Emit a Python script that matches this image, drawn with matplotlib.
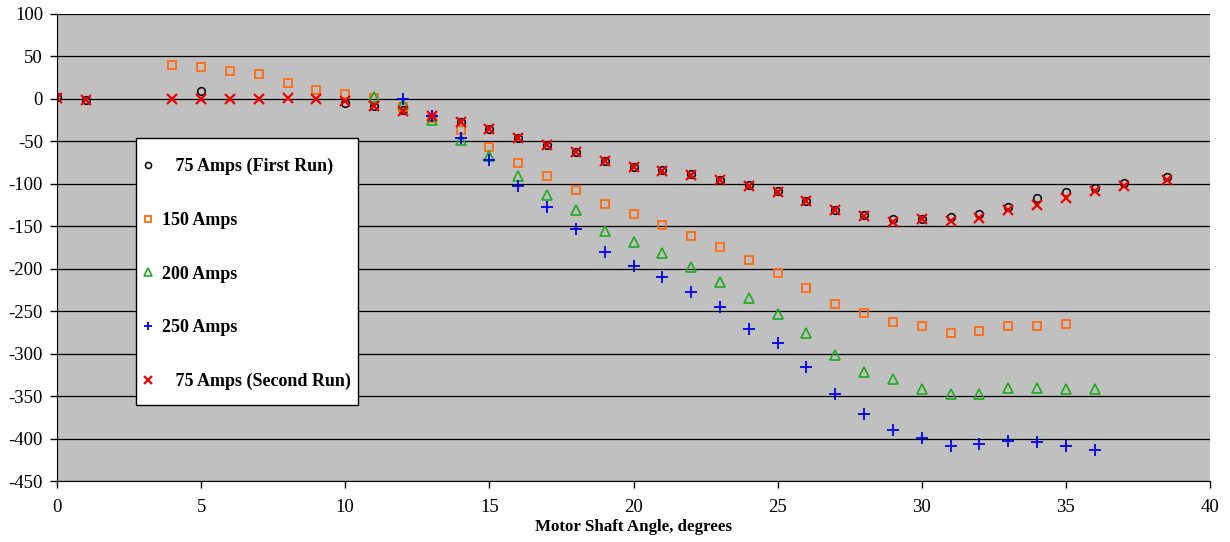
import matplotlib
matplotlib.use("Agg")
import matplotlib.pyplot as plt
from matplotlib.patches import Rectangle

# 75 Amps, first run
x_75a = [0, 1, 5, 10, 11, 12, 13, 14, 15, 16, 17, 18, 19, 20, 21, 22, 23, 24, 25,
         26, 27, 28, 29, 30, 31, 32, 33, 34, 35, 36, 37, 38.5]
y_75a = [2, -1, 9, -5, -8, -13, -21, -27, -36, -46, -54, -63, -73, -80, -84, -89, -95, -101, -109,
         -120, -131, -137, -141, -141, -139, -135, -127, -117, -110, -105, -99, -92]

# 150 Amps
x_150 = [4, 5, 6, 7, 8, 9, 10, 11, 12, 13, 14, 15, 16, 17, 18, 19, 20, 21, 22, 23, 24, 25,
         26, 27, 28, 29, 30, 31, 32, 33, 34, 35]
y_150 = [40, 37, 33, 29, 19, 10, 6, 1, -10, -23, -37, -57, -75, -91, -107, -124, -136, -148, -161, -175, -190, -205,
         -223, -242, -252, -263, -268, -276, -273, -268, -267, -265]

# 200 Amps
x_200 = [11, 12, 13, 14, 15, 16, 17, 18, 19, 20, 21, 22, 23, 24, 25,
         26, 27, 28, 29, 30, 31, 32, 33, 34, 35, 36]
y_200 = [2, -6, -25, -48, -67, -91, -113, -131, -155, -169, -182, -198, -216, -235, -253,
         -276, -302, -322, -330, -342, -347, -347, -340, -340, -342, -342]

# 250 Amps
x_250 = [12, 13, 14, 15, 16, 17, 18, 19, 20, 21, 22, 23, 24, 25,
         26, 27, 28, 29, 30, 31, 32, 33, 34, 35, 36]
y_250 = [0, -20, -46, -72, -103, -127, -153, -180, -197, -210, -227, -245, -271, -288,
         -316, -348, -371, -390, -399, -409, -407, -403, -404, -409, -413]

# 75 Amps, second run
x_75b = [0, 1, 4, 5, 6, 7, 8, 9, 10, 11, 12, 13, 14, 15, 16, 17, 18, 19, 20, 21, 22, 23, 24, 25,
         26, 27, 28, 29, 30, 31, 32, 33, 34, 35, 36, 37, 38.5]
y_75b = [1, -1, 0, 0, 0, 0, 1, 0, -3, -8, -14, -20, -27, -36, -46, -54, -63, -73, -80, -85, -90, -96, -102, -110,
         -120, -131, -138, -145, -142, -144, -140, -131, -125, -117, -109, -102, -95]

plt.rcParams['font.family'] = ['Liberation Serif', 'DejaVu Serif']
plt.rcParams['axes.unicode_minus'] = False

fig = plt.figure(figsize=(12.3, 5.42), dpi=100)
ax = fig.add_axes([57 / 1230, 1 - 481 / 542, (1210 - 57) / 1230, (481 - 14) / 542])
ax.set_facecolor('#C0C0C0')

ax.plot(x_75a, y_75a, 'o', mfc='none', mec='black', ms=5.5, mew=1.1, label='   75 Amps (First Run)')
ax.plot(x_150, y_150, 's', mfc='none', mec='#FF6A10', ms=6, mew=1.3, label='150 Amps')
ax.plot(x_200, y_200, '^', mfc='none', mec='#1FAA1F', ms=6.5, mew=1.2, label='200 Amps')
ax.plot(x_250, y_250, '+', color='#0000EE', ms=8, mew=1.3, label='250 Amps')
ax.plot(x_75b, y_75b, 'x', color='#EE0000', ms=7, mew=1.6, label='   75 Amps (Second Run)')

ax.set_xlim(0, 40)
ax.set_ylim(-450, 100)
ax.set_xticks(range(0, 41, 5))
ax.set_yticks(range(-450, 101, 50))
ax.yaxis.grid(True, color='black', lw=0.9)
ax.set_axisbelow(True)
for s in ['top', 'right']:
    ax.spines[s].set_visible(False)
ax.tick_params(labelsize=13.5, direction='out', length=5, width=1)
ax.tick_params(axis='x', pad=8)
ax.tick_params(axis='y', pad=5)
ax.set_xlabel('Motor Shaft Angle, degrees', fontsize=12.2, fontweight='bold', labelpad=2)

# legend box drawn separately so the padding can differ from the text size
box = Rectangle((79 / 1153, 76 / 467), 222 / 1153, 267 / 467, transform=ax.transAxes,
                facecolor='white', edgecolor='black', lw=1, zorder=4)
ax.add_patch(box)
leg = ax.legend(loc='upper left', bbox_to_anchor=(84 / 1153, 323 / 467), borderaxespad=0,
                borderpad=0, frameon=False,
                prop={'weight': 'bold', 'size': 13}, labelspacing=2.03, handlelength=0.8,
                handletextpad=0.35, markerscale=0.8)
leg.set_zorder(5)

fig.savefig('out.png', dpi=100)
